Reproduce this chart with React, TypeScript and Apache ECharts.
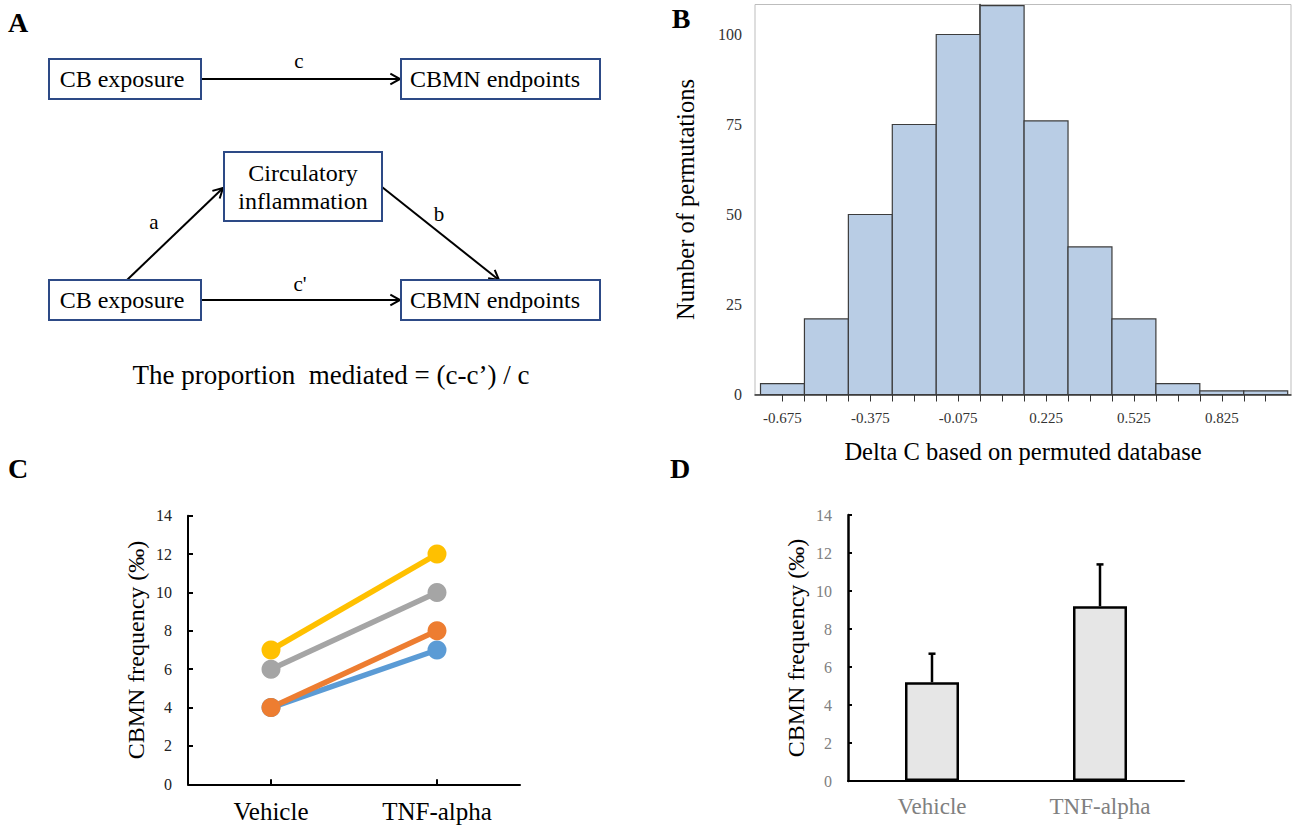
import React, { useEffect, useRef } from "react";
import * as echarts from "echarts";

// ---- Panel B: histogram of permutations ----
const histBinStart = [-0.75, -0.6, -0.45, -0.3, -0.15, 0, 0.15, 0.3, 0.45, 0.6, 0.75, 0.9];
const histBinEnd = [-0.6, -0.45, -0.3, -0.15, 0, 0.15, 0.3, 0.45, 0.6, 0.75, 0.9, 1.05];
const histCounts = [3, 21, 50, 75, 100, 108, 76, 41, 21, 3, 1, 1];
const histXLabels = [-0.675, -0.375, -0.075, 0.225, 0.525, 0.825];
const histXTicks = [
  -0.675, -0.6, -0.525, -0.45, -0.375, -0.3, -0.225, -0.15, -0.075, 0, 0.075, 0.15,
  0.225, 0.3, 0.375, 0.45, 0.525, 0.6, 0.675, 0.75, 0.825, 0.9, 0.975,
];
const histYTicks = [0, 25, 50, 75, 100];

// ---- Panel C: paired lines ----
const groups = ["Vehicle", "TNF-alpha"];
const blueLine = [4, 7];
const orangeLine = [4, 8];
const grayLine = [6, 10];
const yellowLine = [7, 12];

// ---- Panel D: bar with upper error ----
const barMeans = [5.2, 9.2];
const barUpper = [6.7, 11.4];

const SERIF = "Liberation Serif";

function arrowEls(x1: number, y1: number, x2: number, y2: number) {
  const ang = Math.atan2(y2 - y1, x2 - x1);
  const L = 11;
  const w = 0.5;
  const p1 = [x2 - L * Math.cos(ang - w), y2 - L * Math.sin(ang - w)];
  const p2 = [x2 - L * Math.cos(ang + w), y2 - L * Math.sin(ang + w)];
  return [
    { type: "line", shape: { x1, y1, x2, y2 }, style: { stroke: "#000", lineWidth: 2 } },
    { type: "polyline", shape: { points: [p1, [x2, y2], p2] }, style: { stroke: "#000", lineWidth: 2, fill: null } },
  ];
}

function boxEl(x: number, y: number, w: number, h: number) {
  return {
    type: "rect",
    shape: { x, y, width: w, height: h },
    style: { fill: "#fff", stroke: "#2d4a86", lineWidth: 2 },
  };
}

function textEl(text: string, x: number, y: number, size: number, weight = "normal", color = "#000") {
  return {
    type: "text",
    x,
    y,
    style: {
      text,
      fontSize: size,
      fontFamily: SERIF,
      fontWeight: weight,
      fill: color,
      align: "center",
      verticalAlign: "middle",
      lineHeight: size * 1.15,
    },
  };
}

export default function App() {
  const ref = useRef<HTMLDivElement>(null);

  useEffect(() => {
    if (!ref.current) return;
    const chart = echarts.init(ref.current, undefined, { renderer: "svg" });

    const graphics: any[] = [
      textEl("A", 18, 22, 28, "bold"),
      textEl("B", 681, 18, 28, "bold"),
      textEl("C", 18, 468, 28, "bold"),
      textEl("D", 680, 468, 28, "bold"),
      ...arrowEls(201, 79, 400, 79),
      ...arrowEls(127, 280, 223, 188),
      ...arrowEls(382, 187, 499, 280),
      ...arrowEls(201, 300, 400, 300),
      boxEl(49, 59, 152, 40),
      boxEl(401, 59, 199, 40),
      boxEl(224, 152, 158, 69),
      boxEl(49, 280, 152, 40),
      boxEl(401, 280, 199, 40),
      textEl("CB exposure", 122, 79, 24),
      textEl("CBMN endpoints", 495, 79, 24),
      textEl("Circulatory\ninflammation", 303, 187, 24),
      textEl("CB exposure", 122, 300, 24),
      textEl("CBMN endpoints", 495, 300, 24),
      textEl("c", 299, 61, 21),
      textEl("a", 154, 222, 21),
      textEl("b", 439, 214, 21),
      textEl("c'", 300, 284, 21),
      textEl("The proportion  mediated = (c-c\u2019) / c", 331, 375, 27),
    ];

    const option: any = {
      animation: false,
      backgroundColor: "#fff",
      textStyle: { fontFamily: SERIF },
      graphic: graphics,
      grid: [
        { left: 755, top: 4.5, width: 536, height: 390, show: true, borderColor: "#bdbdbd", borderWidth: 1, backgroundColor: "transparent" },
        { left: 188, top: 515.7, width: 332, height: 268.6 },
        { left: 848, top: 515, width: 336, height: 266 },
      ],
      xAxis: [
        {
          gridIndex: 0,
          type: "value",
          min: -0.7688,
          max: 1.0613,
          name: "Delta C based on permuted database",
          nameLocation: "middle",
          nameGap: 44,
          nameTextStyle: { fontFamily: SERIF, fontSize: 24.5, color: "#000" },
          axisLine: { show: true, lineStyle: { color: "#333", width: 1.5 } },
          axisTick: { show: true, length: 7, lineStyle: { color: "#333" }, customValues: histXTicks },
          axisLabel: {
            fontFamily: SERIF,
            fontSize: 15,
            color: "#333",
            margin: 16,
            customValues: histXLabels,
            formatter: (v: number) => v.toFixed(3),
          },
          splitLine: { show: false },
        },
        {
          gridIndex: 1,
          type: "category",
          data: groups,
          boundaryGap: true,
          axisLine: { lineStyle: { color: "#000", width: 2 } },
          axisTick: { show: true, inside: true, alignWithLabel: true, length: 5, lineStyle: { color: "#000", width: 2 } },
          axisLabel: { fontFamily: SERIF, fontSize: 25, color: "#000", margin: 15 },
        },
        {
          gridIndex: 2,
          type: "category",
          data: groups,
          boundaryGap: true,
          axisLine: { lineStyle: { color: "#000", width: 2 } },
          axisTick: { show: false },
          axisLabel: { fontFamily: SERIF, fontSize: 23, color: "#808080", margin: 14 },
        },
      ],
      yAxis: [
        {
          gridIndex: 0,
          type: "value",
          min: 0,
          max: 108.33,
          name: "Number of permutations",
          nameLocation: "middle",
          nameGap: 57,
          nameTextStyle: { fontFamily: SERIF, fontSize: 24.5, color: "#000" },
          axisLine: { show: true, lineStyle: { color: "#333", width: 1.5 } },
          axisTick: { show: true, length: 7, lineStyle: { color: "#333" }, customValues: histYTicks },
          axisLabel: { fontFamily: SERIF, fontSize: 16, color: "#333", margin: 13, customValues: histYTicks },
          splitLine: { show: false },
        },
        {
          gridIndex: 1,
          type: "value",
          min: 0,
          max: 14,
          interval: 2,
          name: "CBMN frequency (\u2030)",
          nameLocation: "middle",
          nameGap: 40,
          nameTextStyle: { fontFamily: SERIF, fontSize: 24, color: "#000" },
          axisLine: { show: true, lineStyle: { color: "#000", width: 2 } },
          axisTick: { show: true, inside: true, length: 5, lineStyle: { color: "#000", width: 2 } },
          axisLabel: { fontFamily: SERIF, fontSize: 16, color: "#222", margin: 16 },
          splitLine: { show: false },
        },
        {
          gridIndex: 2,
          type: "value",
          min: 0,
          max: 14,
          interval: 2,
          name: "CBMN frequency (\u2030)",
          nameLocation: "middle",
          nameGap: 40,
          nameTextStyle: { fontFamily: SERIF, fontSize: 24, color: "#000" },
          axisLine: { show: true, lineStyle: { color: "#000", width: 2.5 } },
          axisTick: { show: true, inside: true, length: 4, lineStyle: { color: "#000", width: 2 } },
          axisLabel: { fontFamily: SERIF, fontSize: 16, color: "#808080", margin: 16 },
          splitLine: { show: false },
        },
      ],
      series: [
        {
          type: "custom",
          xAxisIndex: 0,
          yAxisIndex: 0,
          encode: { x: [0, 1], y: 2 },
          data: histCounts.map((c, i) => [histBinStart[i], histBinEnd[i], c]),
          renderItem: (params: any, api: any) => {
            const p0 = api.coord([api.value(0), api.value(2)]);
            const p1 = api.coord([api.value(1), 0]);
            return {
              type: "rect",
              shape: { x: p0[0], y: p0[1], width: p1[0] - p0[0], height: p1[1] - p0[1] },
              style: { fill: "#b9cde5", stroke: "#3c3c3c", lineWidth: 1.2 },
            };
          },
        },
        ...[
          { name: "blue", data: blueLine, color: "#5b9bd5" },
          { name: "orange", data: orangeLine, color: "#ed7d31" },
          { name: "gray", data: grayLine, color: "#a5a5a5" },
          { name: "yellow", data: yellowLine, color: "#ffc000" },
        ].map((s) => ({
          type: "line",
          name: s.name,
          xAxisIndex: 1,
          yAxisIndex: 1,
          data: s.data,
          symbol: "circle",
          symbolSize: 19,
          lineStyle: { color: s.color, width: 5.5 },
          itemStyle: { color: s.color },
        })),
        {
          type: "bar",
          xAxisIndex: 2,
          yAxisIndex: 2,
          data: barMeans,
          barWidth: 54,
          itemStyle: { color: "#e6e6e6", borderColor: "#000", borderWidth: 2.5 },
        },
        {
          type: "custom",
          xAxisIndex: 2,
          yAxisIndex: 2,
          encode: { x: 0, y: [1, 2] },
          data: barMeans.map((m, i) => [i, m, barUpper[i]]),
          z: 5,
          renderItem: (params: any, api: any) => {
            const lo = api.coord([api.value(0), api.value(1)]);
            const hi = api.coord([api.value(0), api.value(2)]);
            return {
              type: "group",
              children: [
                { type: "line", shape: { x1: lo[0], y1: lo[1], x2: hi[0], y2: hi[1] }, style: { stroke: "#000", lineWidth: 2.5 } },
                { type: "line", shape: { x1: hi[0] - 3.5, y1: hi[1], x2: hi[0] + 3.5, y2: hi[1] }, style: { stroke: "#000", lineWidth: 2.5 } },
              ],
            };
          },
        },
      ],
    };

    chart.setOption(option);
    return () => chart.dispose();
  }, []);

  return (
    <div
      ref={ref}
      style={{ position: "fixed", left: 0, top: 0, width: 1293, height: 828, background: "#fff" }}
    />
  );
}
